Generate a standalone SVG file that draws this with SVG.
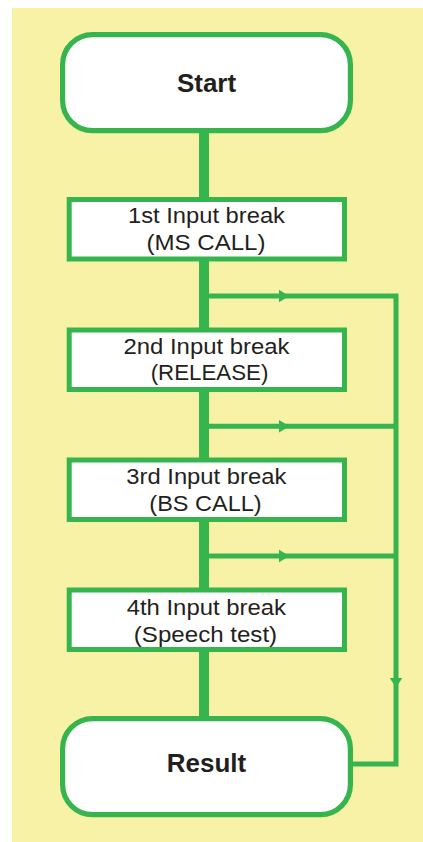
<svg xmlns="http://www.w3.org/2000/svg" width="423" height="842" viewBox="0 0 423 842">
<style>
.bg{fill:#F7F2A6}
.term{fill:#fff;stroke:#36B54F;stroke-width:5.2}
.box{fill:#fff;stroke:#36B54F;stroke-width:5}
.t{font-family:"Liberation Sans",Arial,sans-serif;font-size:22px;fill:#231F20;text-anchor:middle}
.tb{font-family:"Liberation Sans",Arial,sans-serif;font-size:26px;font-weight:bold;fill:#231F20;text-anchor:middle}
.trunk{stroke:#36B54F;stroke-width:10;fill:none}
.line{stroke:#36B54F;stroke-width:5;fill:none;stroke-linejoin:miter}
.ah{fill:#36B54F}
</style>
<rect class="bg" x="12" y="8" width="411" height="834"/>
<g id="connectors">
<line class="trunk" x1="204" y1="131" x2="204" y2="718"/>
<path class="line" d="M204 296 H396 V764 H350"/>
<line class="line" x1="204" y1="426.3" x2="396" y2="426.3"/>
<line class="line" x1="204" y1="556" x2="396" y2="556"/>
<polygon class="ah" points="279,289.7 289,296 279,302.3"/>
<polygon class="ah" points="279,420 289.5,426.3 279,432.6"/>
<polygon class="ah" points="279,549.7 289.5,556 279,562.3"/>
<polygon class="ah" points="389.7,678 402.3,678 396,687.5"/>
</g>
<g id="start">
<rect class="term" x="62.6" y="34.6" width="287.8" height="96" rx="30"/>
<text class="tb" x="206.5" y="92">Start</text>
</g>
<g id="step1">
<rect class="box" x="69.2" y="199.5" width="275.3" height="59.5"/>
<text class="t" x="206.5" y="223" textLength="157" lengthAdjust="spacingAndGlyphs">1st Input break</text>
<text class="t" x="206" y="249.5" textLength="119" lengthAdjust="spacingAndGlyphs">(MS CALL)</text>
</g>
<g id="step2">
<rect class="box" x="69.2" y="330" width="275.3" height="59.5"/>
<text class="t" x="206.5" y="353.5" textLength="166" lengthAdjust="spacingAndGlyphs">2nd Input break</text>
<text class="t" x="209.5" y="380" textLength="117.7" lengthAdjust="spacingAndGlyphs">(RELEASE)</text>
</g>
<g id="step3">
<rect class="box" x="69.2" y="460" width="275.3" height="59.5"/>
<text class="t" x="206.3" y="483.5" textLength="160" lengthAdjust="spacingAndGlyphs">3rd Input break</text>
<text class="t" x="205.5" y="511" textLength="112.3" lengthAdjust="spacingAndGlyphs">(BS CALL)</text>
</g>
<g id="step4">
<rect class="box" x="69.2" y="590" width="275.3" height="59.5"/>
<text class="t" x="206.3" y="614.5" textLength="159.3" lengthAdjust="spacingAndGlyphs">4th Input break</text>
<text class="t" x="205.5" y="641.5" textLength="143.3" lengthAdjust="spacingAndGlyphs">(Speech test)</text>
</g>
<g id="result">
<rect class="term" x="62.6" y="718.6" width="287.8" height="96" rx="30"/>
<text class="tb" x="206.5" y="772">Result</text>
</g>
</svg>
